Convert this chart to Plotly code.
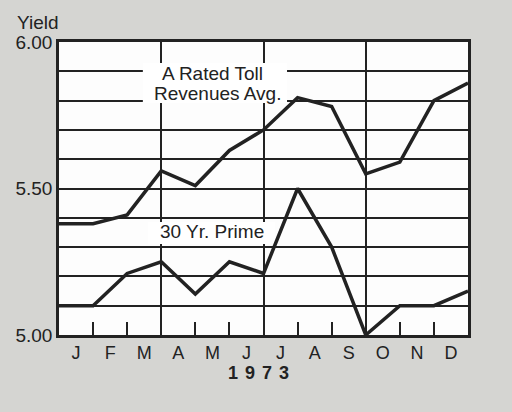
import plotly.graph_objects as go

# ---- data ----
months = ["J", "F", "M", "A", "M", "J", "J", "A", "S", "O", "N", "D"]
month_pos = [i + 0.5 for i in range(12)]
points_x = list(range(13))  # month boundaries, start of Jan .. end of Dec
toll = [5.38, 5.38, 5.41, 5.56, 5.51, 5.63, 5.70, 5.81, 5.78, 5.55, 5.59, 5.80, 5.86]
prime = [5.10, 5.10, 5.21, 5.25, 5.14, 5.25, 5.21, 5.50, 5.30, 5.00, 5.10, 5.10, 5.15]
y_ticks = [5.0, 5.1, 5.2, 5.3, 5.4, 5.5, 5.6, 5.7, 5.8, 5.9, 6.0]
y_ticktext = ["5.00", "", "", "", "", "5.50", "", "", "", "", "6.00"]
quarter_lines = [3, 6, 9]
minor_ticks = [1, 2, 4, 5, 7, 8, 10, 11]

INK = "#222222"
FONT = "Liberation Sans, Arial, sans-serif"

fig = go.Figure()
line_style = dict(color=INK, width=3.5)
fig.add_trace(go.Scatter(x=points_x, y=toll, mode="lines", line=line_style,
                         showlegend=False, hoverinfo="skip"))
fig.add_trace(go.Scatter(x=points_x, y=prime, mode="lines", line=line_style,
                         showlegend=False, hoverinfo="skip"))
# dummy trace for overlay axis (quarter grid lines)
fig.add_trace(go.Scatter(x=[0, 12], y=[5, 6], mode="none", xaxis="x2",
                         showlegend=False, hoverinfo="skip"))

# white label boxes (above grid, below lines)
fig.add_shape(type="rect", xref="x", yref="y", x0=2.46, x1=6.69, y0=5.792, y1=5.928,
              fillcolor="white", line_width=0, layer="between")
fig.add_shape(type="rect", xref="x", yref="y", x0=2.61, x1=6.34, y0=5.311, y1=5.386,
              fillcolor="white", line_width=0, layer="between")

lab_font = dict(family=FONT, size=19, color=INK)
fig.add_annotation(x=4.49, y=5.894, text="A Rated Toll", showarrow=False,
                   font=lab_font, xanchor="center", yanchor="middle")
fig.add_annotation(x=4.64, y=5.823, text="Revenues Avg.", showarrow=False,
                   font=lab_font, xanchor="center", yanchor="middle")
fig.add_annotation(x=4.49, y=5.352, text="30 Yr. Prime", showarrow=False,
                   font=lab_font, xanchor="center", yanchor="middle")

fig.add_annotation(xref="paper", yref="paper", x=-0.108, y=1.068, text="Yield",
                   showarrow=False, font=dict(family=FONT, size=19, color=INK),
                   xanchor="left", yanchor="middle")
fig.add_annotation(xref="paper", yref="paper", x=(262 - 59) / 409, y=-(373 - 335) / 293,
                   text='<b><span style="letter-spacing:7px">1973</span></b>',
                   showarrow=False, font=dict(family=FONT, size=18, color=INK),
                   xanchor="center", yanchor="middle")

fig.update_layout(
    width=512, height=412,
    margin=dict(l=59, r=44, t=42, b=77),
    paper_bgcolor="#d5d5d2",
    plot_bgcolor="#fdfdfd",
    font=dict(family=FONT, color=INK),
    xaxis=dict(range=[0, 12], tickvals=month_pos, ticktext=months, showgrid=False,
               zeroline=False, ticks="", showline=True, mirror=True, linecolor=INK,
               linewidth=2.5, tickfont=dict(size=18, color=INK),
               minor=dict(tickvals=minor_ticks, ticks="inside", ticklen=13,
                          tickwidth=2, tickcolor=INK, showgrid=False)),
    xaxis2=dict(range=[0, 12], overlaying="x", tickvals=quarter_lines, showgrid=True,
                gridcolor=INK, gridwidth=2, showticklabels=False, ticks="",
                zeroline=False, showline=False),
    yaxis=dict(range=[5.0, 6.0], tickvals=y_ticks, ticktext=y_ticktext, showgrid=True,
               gridcolor=INK, gridwidth=2, zeroline=False, ticks="", showline=True,
               mirror=True, linecolor=INK, linewidth=2.5,
               tickfont=dict(size=19, color=INK)),
)

fig.write_html("out.html", config={"displayModeBar": False},
               post_script="document.body.style.margin='0';document.body.style.padding='0';"
                           "document.body.style.overflow='hidden';")
